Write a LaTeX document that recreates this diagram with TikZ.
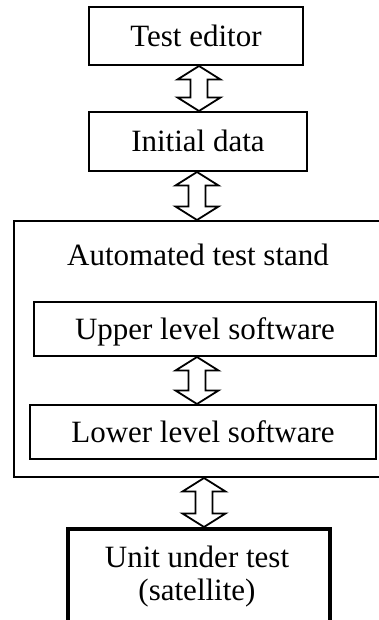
\documentclass[tikz,border=0pt]{standalone}
\usepackage{fontspec}
\setmainfont{Liberation Serif}
\usetikzlibrary{calc}
\tikzset{
  lbl/.style={font=\fontsize{31}{33}\selectfont, inner sep=0pt},
  box/.style={draw, line width=2pt, inner sep=0pt, lbl, text height=21pt, text depth=0pt},
  thickbox/.style={box, line width=3.6pt},
  darrow/.style={draw, line width=1.8pt, fill=white, line join=miter},
}
\newcommand\mydarrow[3]{%
  \path[darrow] let \p1=(#2.south), \p2=(#3.north) in
    (#1,\y1) -- (#1+21.5,\y1-13.5) -- (#1+8.5,\y1-13.5) -- (#1+8.5,\y2+13.5)
    -- (#1+21.5,\y2+13.5) -- (#1,\y2) -- (#1-21.5,\y2+13.5) -- (#1-8.5,\y2+13.5)
    -- (#1-8.5,\y1-13.5) -- (#1-21.5,\y1-13.5) -- cycle;}
\begin{document}
\begin{tikzpicture}[x=1pt,y=1pt]
\useasboundingbox (0,0) rectangle (379,-620);
\clip (0,0) rectangle (379,-620);
\node[box, minimum width=214pt, minimum height=58pt] (te) at (196,-36) {Test editor};
\node[box, minimum width=218pt, minimum height=59pt] (id) at (198,-141.5) {Initial data};
\node[box, minimum width=386pt, minimum height=256pt] (ats) at (207,-349) {};
\node[lbl, anchor=base] (atst) at (198,-265) {Automated test stand};
\node[box, minimum width=342pt, minimum height=54pt] (uls) at (205,-329) {Upper level software};
\node[box, minimum width=346pt, minimum height=54pt] (lls) at (203,-432) {Lower level software};
\node[thickbox, minimum width=262pt, minimum height=140pt, anchor=north] (uut) at (199,-527) {};
\node[lbl, align=center] (uutt) at (197,-576.5) {Unit under test\\(satellite)};
\mydarrow{199}{te}{id}
\mydarrow{197}{id}{ats}
\mydarrow{197}{uls}{lls}
\mydarrow{204}{ats}{uut}
\end{tikzpicture}
\end{document}
